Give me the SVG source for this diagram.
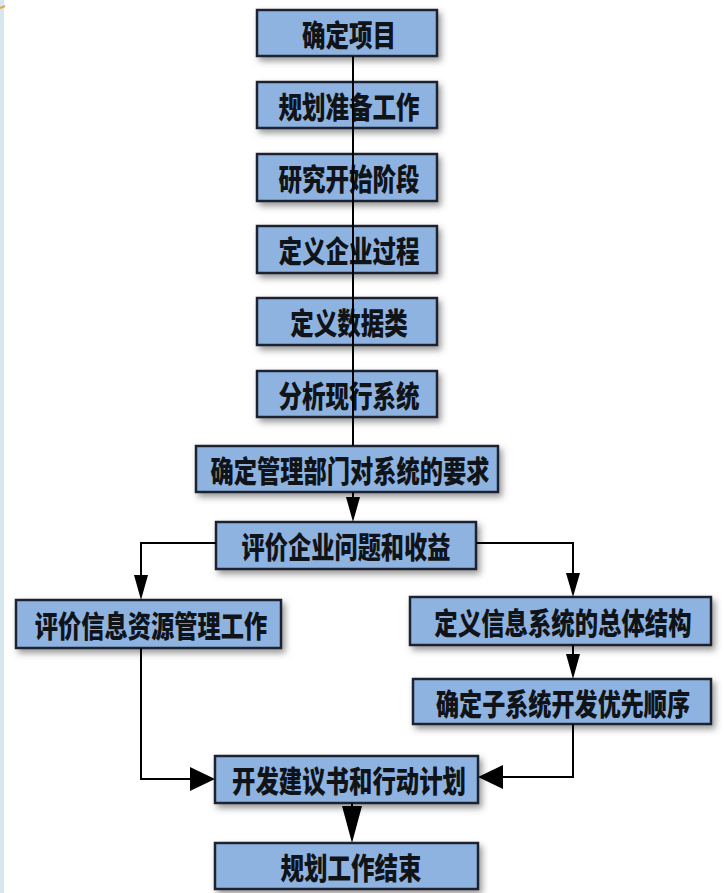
<svg xmlns="http://www.w3.org/2000/svg" width="725" height="893" viewBox="0 0 725 893">
<defs>
<filter id="sh" x="-10%" y="-20%" width="125%" height="160%">
<feDropShadow dx="3" dy="4" stdDeviation="3" flood-color="#4a4a4a" flood-opacity="0.55"/>
</filter>
<style>
.box{fill:#8fb3e0;stroke:#1c2430;stroke-width:2.5;filter:url(#sh)}
.lbl{font-family:"Noto Sans CJK SC","Noto Sans",sans-serif;font-weight:900;font-size:30px;fill:#101418;text-anchor:middle;dominant-baseline:central}
.ln{fill:none;stroke:#000;stroke-width:2}
.ah{fill:#000}
</style>
</defs>
<rect x="0" y="0" width="725" height="893" fill="#ffffff"/>
<rect x="0" y="0" width="4" height="893" fill="#d6e6ef"/>
<path d="M0 8 L5 6" stroke="#e8a33c" stroke-width="2"/>
<g id="n1"><rect class="box" x="257" y="10" width="180" height="46"/><text class="lbl" transform="translate(349,33) scale(0.785,1)">确定项目</text></g>
<g id="n2"><rect class="box" x="257" y="82" width="180" height="46"/><text class="lbl" transform="translate(349,105) scale(0.785,1)">规划准备工作</text></g>
<g id="n3"><rect class="box" x="257" y="154" width="180" height="47"/><text class="lbl" transform="translate(349,177) scale(0.785,1)">研究开始阶段</text></g>
<g id="n4"><rect class="box" x="257" y="226" width="180" height="47"/><text class="lbl" transform="translate(349,249) scale(0.785,1)">定义企业过程</text></g>
<g id="n5"><rect class="box" x="257" y="298" width="180" height="47"/><text class="lbl" transform="translate(349,321) scale(0.785,1)">定义数据类</text></g>
<g id="n6"><rect class="box" x="257" y="371" width="180" height="46"/><text class="lbl" transform="translate(349,394) scale(0.785,1)">分析现行系统</text></g>
<g id="n7"><rect class="box" x="196" y="446" width="302" height="46"/><text class="lbl" transform="translate(350,469) scale(0.775,1)">确定管理部门对系统的要求</text></g>
<g id="n8"><rect class="box" x="216" y="522" width="260" height="47"/><text class="lbl" transform="translate(346,545) scale(0.775,1)">评价企业问题和收益</text></g>
<g id="n9"><rect class="box" x="16" y="600" width="265" height="48"/><text class="lbl" transform="translate(151,624) scale(0.775,1)">评价信息资源管理工作</text></g>
<g id="n10"><rect class="box" x="410" y="597" width="301" height="48"/><text class="lbl" transform="translate(563,621) scale(0.78,1)">定义信息系统的总体结构</text></g>
<g id="n11"><rect class="box" x="413" y="679" width="298" height="45"/><text class="lbl" transform="translate(563,702) scale(0.77,1)">确定子系统开发优先顺序</text></g>
<g id="n12"><rect class="box" x="215" y="756" width="263" height="47"/><text class="lbl" transform="translate(349,779) scale(0.78,1)">开发建议书和行动计划</text></g>
<g id="n13"><rect class="box" x="215" y="843" width="263" height="46"/><text class="lbl" transform="translate(351,866) scale(0.785,1)">规划工作结束</text></g>
<g id="connectors">
<line class="ln" x1="353" y1="56" x2="353" y2="446"/>
<line class="ln" x1="353" y1="492" x2="353" y2="499"/>
<polygon class="ah" points="346,497 360,497 353,522"/>
<polyline class="ln" points="216,543 141,543 141,577"/>
<polygon class="ah" points="134,575 148,575 141,600"/>
<polyline class="ln" points="476,543 573,543 573,575"/>
<polygon class="ah" points="566,573 580,573 573,597"/>
<line class="ln" x1="573" y1="645" x2="573" y2="656"/>
<polygon class="ah" points="566,654 580,654 573,679"/>
<polyline class="ln" points="141,648 141,779 192,779"/>
<polygon class="ah" points="190,767 190,791 215,779"/>
<polyline class="ln" points="573,724 573,777 501,777"/>
<polygon class="ah" points="503,765 503,789 478,777"/>
<line class="ln" x1="352" y1="803" x2="352" y2="810"/>
<polygon class="ah" points="342,806 362,806 352,843"/>
</g>
</svg>
